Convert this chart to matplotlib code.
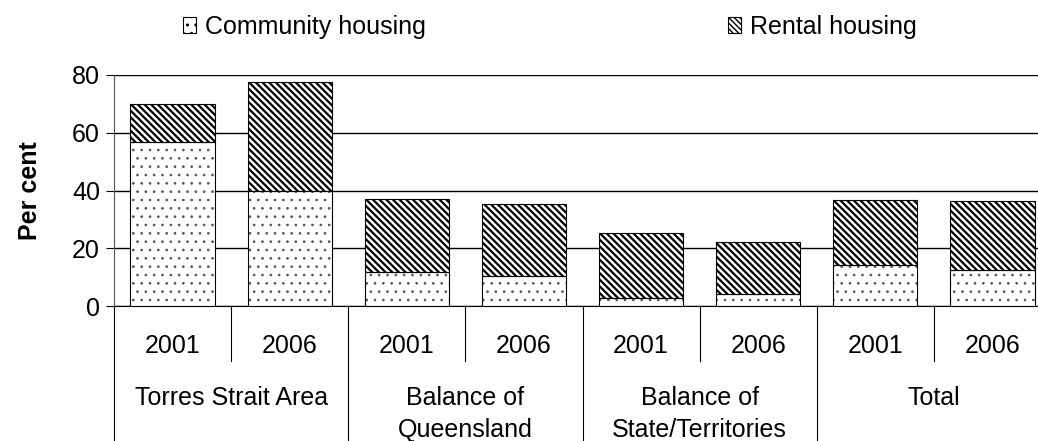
import matplotlib
matplotlib.use("Agg")
import matplotlib.pyplot as plt
import matplotlib.transforms as mtransforms
from matplotlib.patches import Patch

years = ["2001", "2006", "2001", "2006", "2001", "2006", "2001", "2006"]
groups = ["Torres Strait Area", "Balance of\nQueensland", "Balance of\nState/Territories", "Total"]
community = [56.7, 39.8, 11.7, 10.5, 2.7, 4.0, 14.1, 12.4]
rental = [13.4, 37.8, 25.2, 24.7, 22.7, 18.3, 22.5, 23.9]
yticks = [0, 20, 40, 60, 80]

plt.rcParams["font.family"] = ["Liberation Sans", "DejaVu Sans"]

DOT = ".."
STRIPE = "\\" * 5

fig = plt.figure(figsize=(10.38, 4.41), dpi=100)
ax = fig.add_axes([114 / 1038, 1 - 306 / 441, 937 / 1038, 231 / 441])

x = list(range(len(years)))
with plt.rc_context({"hatch.linewidth": 0.7}):
    ax.bar(x, community, width=0.72, color="white", edgecolor="#555555", hatch=DOT, linewidth=0, zorder=3)
with plt.rc_context({"hatch.linewidth": 1.6}):
    ax.bar(x, rental, bottom=community, width=0.72, color="white", edgecolor="black", hatch=STRIPE, linewidth=0, zorder=3)
# outlines
ax.bar(x, community, width=0.72, fill=False, edgecolor="black", linewidth=0.8, zorder=4)
ax.bar(x, rental, bottom=community, width=0.72, fill=False, edgecolor="black", linewidth=0.8, zorder=4)

ax.set_xlim(-0.5, len(years) - 0.5)
ax.set_ylim(0, 80)
ax.set_yticks(yticks)
ax.yaxis.grid(True, color="black", linewidth=1.0, zorder=0)
ax.set_axisbelow(True)
for s in ["top", "right"]:
    ax.spines[s].set_visible(False)
ax.spines["left"].set_color("#555555")
ax.spines["bottom"].set_color("black")
ax.tick_params(axis="y", labelsize=18, length=6, direction="out", pad=4)
ax.set_xticks(x)
ax.set_xticklabels(years, fontsize=18)
ax.tick_params(axis="x", length=0, pad=20)
ax.set_ylabel("Per cent", fontsize=18, fontweight="bold", labelpad=22)

trans = mtransforms.blended_transform_factory(ax.transData, ax.transAxes)
for i in range(len(years) + 1):
    xp = i - 0.5
    if i % 2 == 0:
        ax.plot([xp, xp], [0, -0.6], color="black", lw=0.8, transform=trans, clip_on=False)
    else:
        ax.plot([xp, xp], [0, -0.238], color="black", lw=0.8, transform=trans, clip_on=False)

for g, name in enumerate(groups):
    ax.text(2 * g + 0.5, -0.345, name, transform=trans, ha="center", va="top",
            fontsize=18, linespacing=1.45)

with plt.rc_context({"hatch.linewidth": 0.8}):
    h1 = Patch(facecolor="white", edgecolor="black", hatch="..", lw=0.8)
with plt.rc_context({"hatch.linewidth": 1.4}):
    h2 = Patch(facecolor="white", edgecolor="black", hatch="\\" * 6, lw=0.8)

fig.legend(handles=[h1], labels=["Community housing"], loc="center left",
           bbox_to_anchor=(160 / 1038, 1 - 27 / 441), frameon=False, fontsize=18,
           handlelength=0.55, handleheight=0.6, handletextpad=0.35)
fig.legend(handles=[h2], labels=["Rental housing"], loc="center left",
           bbox_to_anchor=(705 / 1038, 1 - 27 / 441), frameon=False, fontsize=18,
           handlelength=0.55, handleheight=0.6, handletextpad=0.35)

fig.savefig("out.png", dpi=100)
